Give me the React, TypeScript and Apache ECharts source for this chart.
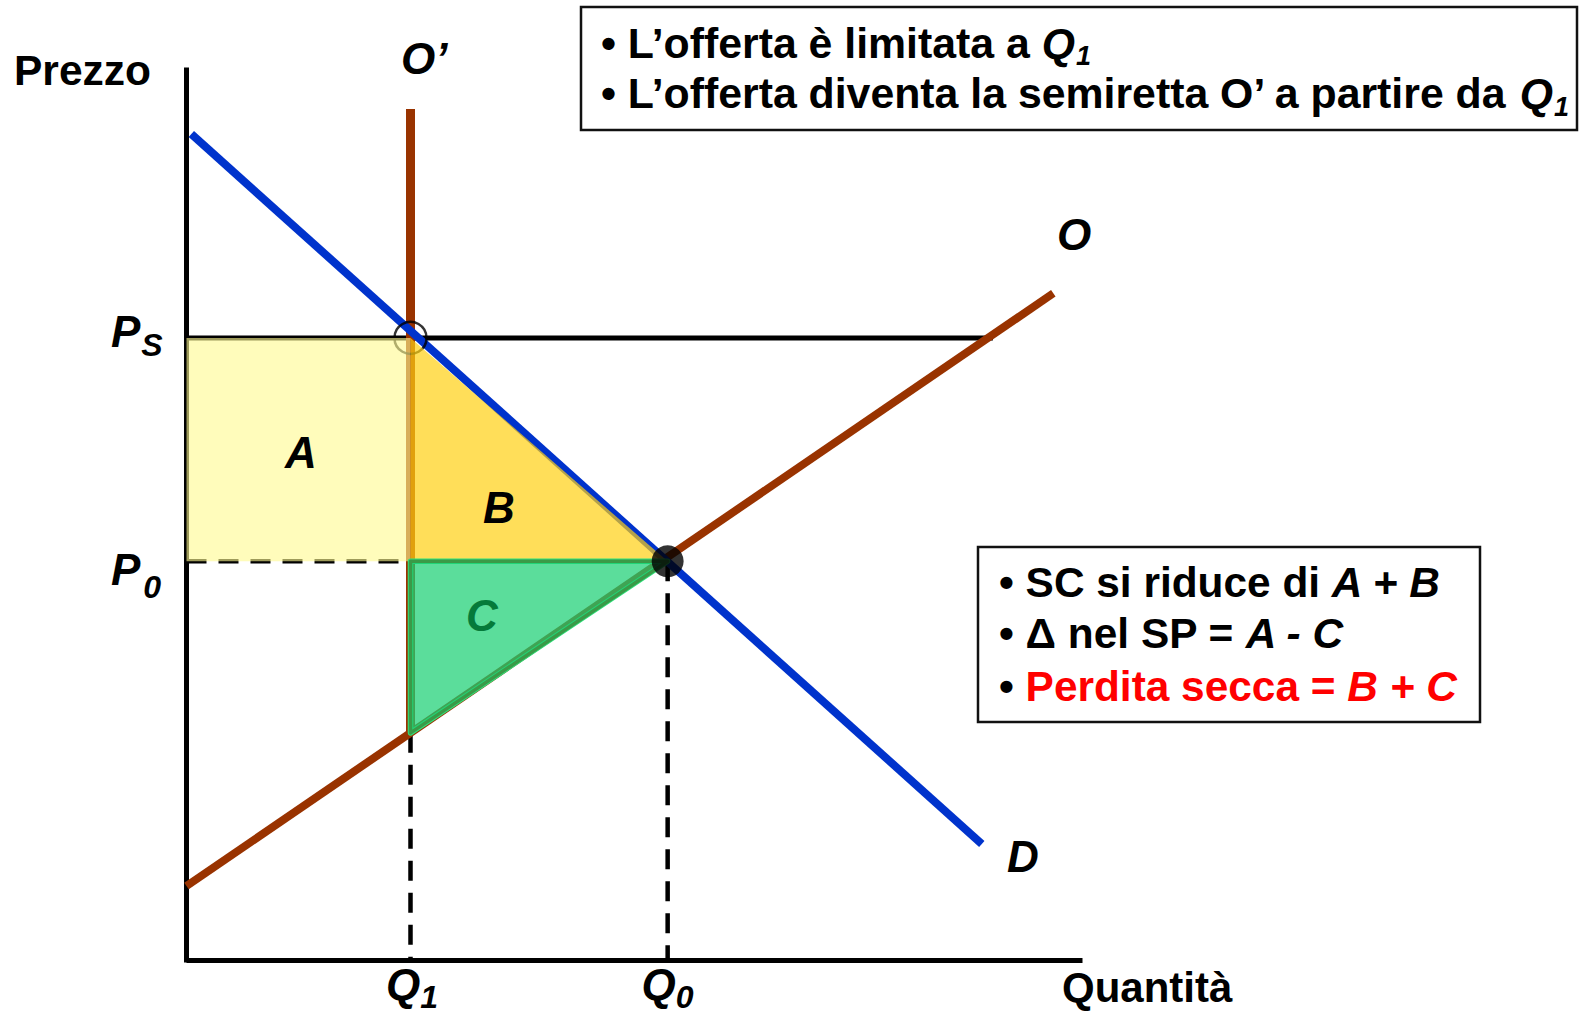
import React, { useEffect, useRef } from "react";
import * as echarts from "echarts";

const FONT = '"Liberation Sans", Arial, Helvetica, sans-serif';

// axis domains
const X_DOMAIN = [0, 10];
const Y_DOMAIN = [0, 10];

// key quantities and prices
const Q1 = 2.5;
const Q0 = 5.37;
const PS = 6.99;
const P0 = 4.48;
const S_AT_Q1 = 2.552;

// curves
const DEMAND_PTS: number[][] = [[0.054, 9.281], [8.876, 1.304]];
const SUPPLY_PTS: number[][] = [[0, 0.831], [9.674, 7.491]];
const O_PRIME_PTS: number[][] = [[Q1, 9.562], [Q1, S_AT_Q1]];
const PS_LINE_PTS: number[][] = [[0, PS], [9.0, PS]];

// dashed guides
const P0_DASH_PTS: number[][] = [[0, P0], [Q0, P0]];
const Q0_DASH_PTS: number[][] = [[Q0, P0], [Q0, 0]];
const Q1_DASH_PTS: number[][] = [[Q1, S_AT_Q1], [Q1, 0]];

// surplus areas
const AREA_A: number[][] = [[0, PS], [Q1, PS], [Q1, P0], [0, P0]];
const AREA_B: number[][] = [[Q1, PS], [Q1, P0], [Q0, P0]];
const AREA_C: number[][] = [[Q1, P0], [Q0, P0], [Q1, S_AT_Q1]];
const AREAS = [AREA_A, AREA_B, AREA_C];

// texts
const TOP_NOTES = [
  "• L’offerta è limitata a ",
  "• L’offerta diventa la semiretta O’ a partire da ",
];
const BOTTOM_NOTES = [
  { plain: "SC si riduce di ", italic: "A + B", color: "#000000" },
  { plain: "Δ nel SP = ", italic: "A - C", color: "#000000" },
  { plain: "Perdita secca = ", italic: "B + C", color: "#FF0000" },
];

let measureCtx: CanvasRenderingContext2D | null = null;
function textWidth(t: string, size: number, italic: boolean): number {
  if (!measureCtx) {
    const c = document.createElement("canvas");
    measureCtx = c.getContext("2d");
  }
  if (!measureCtx) return t.length * size * 0.55;
  measureCtx.font = `${italic ? "italic " : ""}bold ${size}px ${FONT}`;
  return measureCtx.measureText(t).width;
}

function label(text: string, x: number, y: number, size: number, italic: boolean, fill = "#000") {
  return {
    type: "text",
    x,
    y,
    z: 100,
    silent: true,
    style: {
      text,
      fill,
      fontSize: size,
      fontFamily: FONT,
      fontWeight: "bold",
      fontStyle: italic ? "italic" : "normal",
      align: "left",
      verticalAlign: "middle",
    },
  };
}

function richLine(
  bullet: string,
  plain: string,
  italic: string,
  x: number,
  y: number,
  size: number,
  fill: string
) {
  return {
    type: "text",
    x,
    y,
    z: 100,
    silent: true,
    style: {
      text: `{b|${bullet}}{n|${plain}}{i|${italic}}`,
      fill,
      fontSize: size,
      fontFamily: FONT,
      fontWeight: "bold",
      align: "left",
      verticalAlign: "middle",
      rich: {
        b: { fill: "#000", fontSize: size, fontFamily: FONT, fontWeight: "bold", fontStyle: "normal" },
        n: { fill, fontSize: size, fontFamily: FONT, fontWeight: "bold", fontStyle: "normal" },
        i: { fill, fontSize: size, fontFamily: FONT, fontWeight: "bold", fontStyle: "italic" },
      },
    },
  };
}

function lineSeries(data: number[][], color: string, width: number, type: any = "solid", z = 2) {
  return {
    type: "line",
    data,
    symbol: "none",
    clip: false,
    silent: true,
    z,
    lineStyle: { color, width, type, cap: "butt" },
  };
}

function buildGraphics() {
  const els: any[] = [];
  // axis titles
  els.push(label("Prezzo", 14, 70.5, 42.5, false));
  els.push(label("Quantità", 1062, 987, 42, false));
  // curve labels
  els.push(label("O’", 401, 58, 44, true));
  els.push(label("O", 1057, 234, 44, true));
  els.push(label("D", 1007, 856.5, 44, true));
  // axis value labels with subscripts
  const pw = textWidth("P", 44, true);
  const qw = textWidth("Q", 44, true);
  els.push(label("P", 111, 331, 44, true));
  els.push(label("S", 111 + pw + 1, 345, 32, true));
  els.push(label("P", 111, 569, 44, true));
  els.push(label("0", 111 + pw + 3, 587, 32, true));
  els.push(label("Q", 386, 984, 44, true));
  els.push(label("1", 386 + qw, 996.5, 32, true));
  els.push(label("Q", 641.5, 984, 44, true));
  els.push(label("0", 641.5 + qw, 996.5, 32, true));
  // area labels
  els.push(label("A", 285, 452, 44, true));
  els.push(label("B", 483, 507, 44, true));
  els.push(label("C", 466, 615, 44, true, "#057A3A"));

  // top note box
  els.push({
    type: "rect",
    z: 90,
    silent: true,
    shape: { x: 581, y: 7, width: 996, height: 123 },
    style: { fill: "#ffffff", stroke: "#111", lineWidth: 2.5 },
  });
  const topY = [42.5, 93];
  const topSize = 42.8;
  TOP_NOTES.forEach((t, i) => {
    const x0 = 601;
    els.push({
      type: "text",
      x: x0,
      y: topY[i],
      z: 100,
      silent: true,
      style: {
        text: `{n|${t}}{i|Q}`,
        fill: "#000",
        fontSize: topSize,
        fontFamily: FONT,
        fontWeight: "bold",
        align: "left",
        verticalAlign: "middle",
        rich: {
          n: { fill: "#000", fontSize: topSize, fontFamily: FONT, fontWeight: "bold", fontStyle: "normal" },
          i: { fill: "#000", fontSize: topSize, fontFamily: FONT, fontWeight: "bold", fontStyle: "italic" },
        },
      },
    });
    const w = textWidth(t, topSize, false) + textWidth("Q", topSize, true);
    els.push(label("1", x0 + w + 1, topY[i] + 13.5, 27, true));
  });

  // bottom note box
  els.push({
    type: "rect",
    z: 90,
    silent: true,
    shape: { x: 978, y: 547, width: 502, height: 175 },
    style: { fill: "#ffffff", stroke: "#111", lineWidth: 2.5 },
  });
  const botY = [582.5, 633.5, 686];
  BOTTOM_NOTES.forEach((n, i) => {
    els.push(richLine("• ", n.plain, n.italic, 999, botY[i], 42.4, n.color));
  });
  return els;
}

const AREA_FILLS = ["rgba(255,250,145,0.62)", "rgba(255,208,19,0.7)", "rgba(28,208,116,0.72)"];

export default function App() {
  const ref = useRef<HTMLDivElement>(null);
  useEffect(() => {
    if (!ref.current) return;
    const chart = echarts.init(ref.current, undefined, { renderer: "svg" });
    const dash = [20, 12];
    const option: any = {
      animation: false,
      backgroundColor: "#ffffff",
      grid: { left: 186.5, top: 70, width: 896, height: 890 },
      xAxis: {
        type: "value",
        min: X_DOMAIN[0],
        max: X_DOMAIN[1],
        axisLine: { show: true, onZero: false, lineStyle: { color: "#000", width: 5, cap: "butt" } },
        axisTick: { show: false },
        axisLabel: { show: false },
        splitLine: { show: false },
      },
      yAxis: {
        type: "value",
        min: Y_DOMAIN[0],
        max: Y_DOMAIN[1],
        axisLine: { show: true, onZero: false, lineStyle: { color: "#000", width: 5, cap: "square" } },
        axisTick: { show: false },
        axisLabel: { show: false },
        splitLine: { show: false },
      },
      series: [
        lineSeries(PS_LINE_PTS, "#000000", 5),
        lineSeries(P0_DASH_PTS, "#000000", 4.5, dash),
        lineSeries(Q0_DASH_PTS, "#000000", 4.5, dash),
        lineSeries(Q1_DASH_PTS, "#000000", 4.5, dash),
        lineSeries(O_PRIME_PTS, "#993300", 9),
        lineSeries(SUPPLY_PTS, "#993300", 8),
        lineSeries(DEMAND_PTS, "#0033CC", 8),
        {
          type: "scatter",
          data: [[Q1, PS]],
          symbolSize: 32,
          silent: true,
          z: 3,
          itemStyle: { color: "rgba(0,0,0,0)", borderColor: "#000", borderWidth: 2.5 },
        },
        {
          type: "custom",
          z: 5,
          silent: true,
          clip: false,
          encode: { x: 0, y: 1 },
          data: AREAS.map((a) => [a[0][0], a[0][1]]),
          renderItem: (params: any, api: any) => {
            const i = params.dataIndex;
            const pts = AREAS[i].map((p) => api.coord(p));
            if (i === 2) {
              return {
                type: "group",
                children: [
                  {
                    type: "polygon",
                    shape: { points: pts },
                    style: { fill: "none", stroke: "#2EE27C", lineWidth: 5.5, lineJoin: "round" },
                  },
                  {
                    type: "polygon",
                    shape: { points: pts },
                    style: { fill: AREA_FILLS[2], stroke: "#3A9A48", lineWidth: 3.5, lineJoin: "round" },
                  },
                ],
              };
            }
            return { type: "polygon", shape: { points: pts }, style: { fill: AREA_FILLS[i] } };
          },
        },
        {
          type: "scatter",
          data: [[Q0, P0]],
          symbolSize: 32,
          silent: true,
          z: 6,
          itemStyle: { color: "#000" },
        },
      ],
      graphic: buildGraphics(),
    };
    chart.setOption(option);
    return () => chart.dispose();
  }, []);
  return (
    <div
      ref={ref}
      style={{ position: "absolute", left: 0, top: 0, width: 1579, height: 1014, background: "#fff" }}
    />
  );
}
